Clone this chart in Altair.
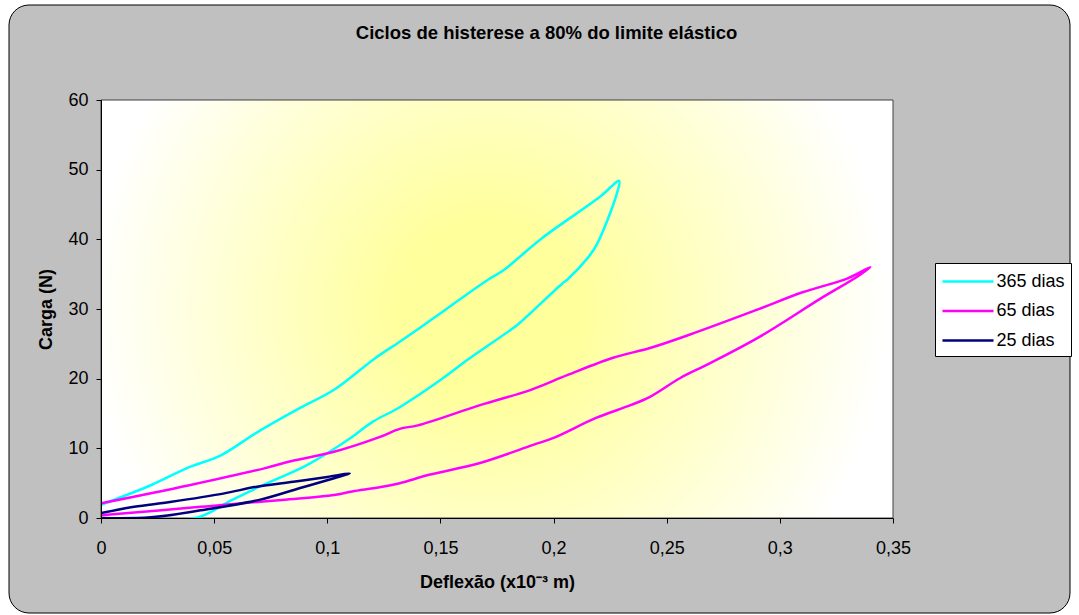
import altair as alt
import pandas as pd

TITLE = "Ciclos de histerese a 80% do limite elástico"
X_TITLE = "Deflexão (x10\u207b\u00b3 m)"
Y_TITLE = "Carga (N)"

series_names = ["365 dias", "65 dias", "25 dias"]
series_colors = ["#00FFFF", "#FF00FF", "#000080"]

x_ticks = [0, 0.05, 0.1, 0.15, 0.2, 0.25, 0.3, 0.35]
y_ticks = [0, 10, 20, 30, 40, 50, 60]

cyan_x = [0.020, 0.042, 0.058, 0.070, 0.091, 0.109, 0.120, 0.132, 0.150,
          0.162, 0.181, 0.185, 0.204, 0.206, 0.215, 0.219, 0.228, 0.229, 0.2205,
          0.195, 0.178, 0.171, 0.150, 0.141, 0.132, 0.121, 0.103, 0.088,
          0.069, 0.053, 0.039, 0.022, 0.000]
cyan_y = [0.0, 0.0, 2.6, 4.5, 7.6, 11.2, 13.8, 15.9, 19.8,
          22.7, 27.0, 28.0, 33.7, 34.2, 37.3, 39.2, 46.6, 48.4, 46.1,
          40.2, 35.6, 34.2, 29.4, 27.3, 25.3, 22.9, 18.4, 15.8,
          12.3, 9.0, 7.3, 4.7, 1.9]

magenta_x = [0.000, 0.044, 0.080, 0.103, 0.111, 0.123, 0.132, 0.145, 0.1675, 0.191,
             0.200, 0.219, 0.234, 0.2426, 0.256, 0.269, 0.291, 0.319, 0.334, 0.340,
             0.330, 0.310, 0.290, 0.260, 0.2426, 0.2263, 0.206, 0.190, 0.1675, 0.140,
             0.132, 0.123, 0.103, 0.082, 0.073, 0.039, 0.000]
magenta_y = [0.4, 1.6, 2.6, 3.3, 3.8, 4.4, 5.0, 6.2, 7.9, 10.5,
             11.5, 14.4, 16.2, 17.4, 20.1, 22.2, 26.0, 31.7, 34.6, 36.0,
             34.4, 32.4, 29.9, 26.3, 24.4, 23.0, 20.5, 18.4, 16.2, 13.3,
             12.8, 11.6, 9.5, 8.0, 7.2, 4.7, 2.1]

navy_x = [0.000, 0.022, 0.044, 0.070, 0.088, 0.103, 0.110, 0.100, 0.085, 0.069,
          0.054, 0.0305, 0.0147, 0.000]
navy_y = [0.0, 0.1, 1.1, 2.6, 4.3, 5.7, 6.4, 5.9, 5.2, 4.5,
          3.5, 2.3, 1.6, 0.7]

rows = []
for name, xs, ys in [("365 dias", cyan_x, cyan_y),
                     ("65 dias", magenta_x, magenta_y),
                     ("25 dias", navy_x, navy_y)]:
    for i, (xv, yv) in enumerate(zip(xs, ys)):
        rows.append({"serie": name, "x": xv, "y": yv, "i": i})
df = pd.DataFrame(rows)

W, H = 792, 418
FONT = "Liberation Sans"
one = pd.DataFrame({"k": [0]})

bg = alt.Chart(one).mark_rect(
    fill="#C0C0C0", stroke="#000000", strokeWidth=1, cornerRadius=20
).encode(x=alt.value(-92), x2=alt.value(969), y=alt.value(-95), y2=alt.value(513))

gradient = {
    "gradient": "radial",
    "x1": 0.49, "y1": 0.5, "r1": 0,
    "x2": 0.49, "y2": 0.5, "r2": 0.56,
    "stops": [
        {"offset": 0, "color": "#FFFF99"},
        {"offset": 0.2, "color": "#FFFF9C"},
        {"offset": 0.55, "color": "#FFFFCE"},
        {"offset": 0.9, "color": "#FFFFFF"},
        {"offset": 1, "color": "#FFFFFF"},
    ],
}
plot_bg = alt.Chart(one).mark_rect(
    fill=gradient, stroke="#404040", strokeWidth=1
).encode(x=alt.value(0), x2=alt.value(W), y=alt.value(0), y2=alt.value(H))

lines = alt.Chart(df).mark_line(strokeWidth=2.5, interpolate="catmull-rom", clip=True).encode(
    x=alt.X("x:Q", scale=alt.Scale(domain=[0, 0.35], nice=False, zero=False),
            axis=alt.Axis(values=x_ticks, title=X_TITLE,
                          labelExpr="replace(format(datum.value, '~g'), '.', ',')",
                          labelFont=FONT, labelFontSize=18, labelColor="black",
                          titleFont=FONT, titleFontSize=18, titleFontWeight="bold",
                          titleColor="black", tickSize=5, tickColor="black",
                          domainColor="black", labelPadding=16, titlePadding=16,
                          grid=False, labelFlush=False, labelOverlap=False, zindex=1)),
    y=alt.Y("y:Q", scale=alt.Scale(domain=[0, 60], nice=False),
            axis=alt.Axis(values=y_ticks, title=Y_TITLE,
                          labelFont=FONT, labelFontSize=18, labelColor="black",
                          titleFont=FONT, titleFontSize=18, titleFontWeight="bold",
                          titleColor="black", tickSize=5, tickColor="black",
                          domainColor="black", labelPadding=8, titlePadding=12,
                          grid=False, labelOverlap=False, zindex=1)),
    color=alt.Color("serie:N",
                    scale=alt.Scale(domain=series_names, range=series_colors),
                    legend=alt.Legend(orient="none", legendX=834, legendY=163,
                                      title=None, symbolType="M-2.32,0H2.32",
                                      symbolSize=484, symbolStrokeWidth=2.5,
                                      symbolOffset=14.5, labelOffset=16,
                                      labelFont=FONT, labelFontSize=18,
                                      labelColor="black", padding=6,
                                      rowPadding=7.5, fillColor="white",
                                      strokeColor="black",
                                      labelExpr="datum.label + '\u00a0\u00a0'")),
    order=alt.Order("i:Q"),
)

title_mark = alt.Chart(pd.DataFrame({"t": [TITLE]})).mark_text(
    font=FONT, fontSize=18.5, fontWeight="bold", align="center",
    baseline="alphabetic", color="black"
).encode(text="t:N", x=alt.value(445.5), y=alt.value(-61))

chart = alt.layer(bg, plot_bg, lines, title_mark).properties(
    width=W, height=H,
    autosize="none",
    padding={"left": 101, "top": 100, "right": 186, "bottom": 97},
    background="white",
).configure_view(stroke=None)

chart.save("out.html", embed_options={"renderer": "svg", "actions": False})
